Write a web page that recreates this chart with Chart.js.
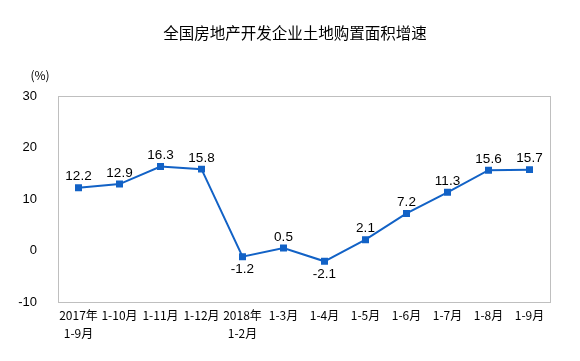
<!DOCTYPE html>
<html>
<head>
<meta charset="utf-8">
<script src="https://cdn.jsdelivr.net/npm/chart.js@4"></script>
<style>
  html, body { margin: 0; padding: 0; background: #fff; }
  #wrap { width: 580px; height: 361px; }
</style>
</head>
<body>
<div id="wrap"><canvas id="chart"></canvas></div>
<script>
// Chart data
const months = [
  ["2017年", "1-9月"], "1-10月", "1-11月", "1-12月", ["2018年", "1-2月"],
  "1-3月", "1-4月", "1-5月", "1-6月", "1-7月", "1-8月", "1-9月"
];
const growth = [12.2, 12.9, 16.3, 15.8, -1.2, 0.5, -2.1, 2.1, 7.2, 11.3, 15.6, 15.7];
const yTicks = [-10, 0, 10, 20, 30];

const chartTitle = "全国房地产开发企业土地购置面积增速";
const lineColor = '#1262c6';
const cjkFont = '"Noto Sans CJK SC", "DejaVu Sans", sans-serif';

// Draws the title, unit, frame and value labels
const decorations = {
  id: 'decorations',
  afterDatasetsDraw(chart) {
    const ctx = chart.ctx;
    const area = chart.chartArea;
    ctx.save();

    ctx.strokeStyle = '#bfbfbf';
    ctx.lineWidth = 1;
    ctx.strokeRect(Math.round(area.left) + 0.5, Math.round(area.top) + 0.5,
      Math.round(area.right - area.left), Math.round(area.bottom - area.top));

    ctx.fillStyle = '#000';
    ctx.textAlign = 'center';
    ctx.textBaseline = 'middle';
    ctx.font = '15.5px ' + cjkFont;
    ctx.fillText(chartTitle, 295, 33);

    ctx.font = '12px ' + cjkFont;
    ctx.fillText('(%)', 40, 75);

    ctx.font = '13.5px "Liberation Sans", Arial, sans-serif';
    const meta = chart.getDatasetMeta(0);
    meta.data.forEach((pt, i) => {
      const v = growth[i];
      const dy = v < 0 ? 13 : -11;
      ctx.fillText(v.toFixed(1), pt.x, pt.y + dy);
    });
    ctx.restore();
  }
};

new Chart(document.getElementById('chart'), {
  type: 'line',
  data: {
    labels: months,
    datasets: [{
      data: growth,
      borderColor: lineColor,
      backgroundColor: lineColor,
      borderWidth: 2,
      pointStyle: 'rect',
      pointRadius: 3.5,
      pointHoverRadius: 3.5,
      tension: 0
    }]
  },
  options: {
    responsive: true,
    maintainAspectRatio: false,
    animation: false,
    layout: { padding: { top: 96, right: 30, left: 0, bottom: 0 } },
    plugins: {
      legend: { display: false },
      title: { display: false },
      tooltip: { enabled: false }
    },
    scales: {
      x: {
        offset: true,
        grid: { display: false },
        border: { display: false },
        ticks: {
          color: '#000',
          maxRotation: 0,
          autoSkip: false,
          padding: -4,
          font: { family: cjkFont, size: 12, lineHeight: 1.5 }
        },
        afterFit(scale) { scale.height = 59; }
      },
      y: {
        min: -10,
        max: 30,
        afterBuildTicks(scale) { scale.ticks = yTicks.map(v => ({ value: v })); },
        grid: { display: false },
        border: { display: false },
        ticks: {
          color: '#000',
          padding: 13,
          font: { family: '"Liberation Sans", Arial, sans-serif', size: 13 }
        },
        afterFit(scale) { scale.width = 58; }
      }
    }
  },
  plugins: [decorations]
});
</script>
</body>
</html>
